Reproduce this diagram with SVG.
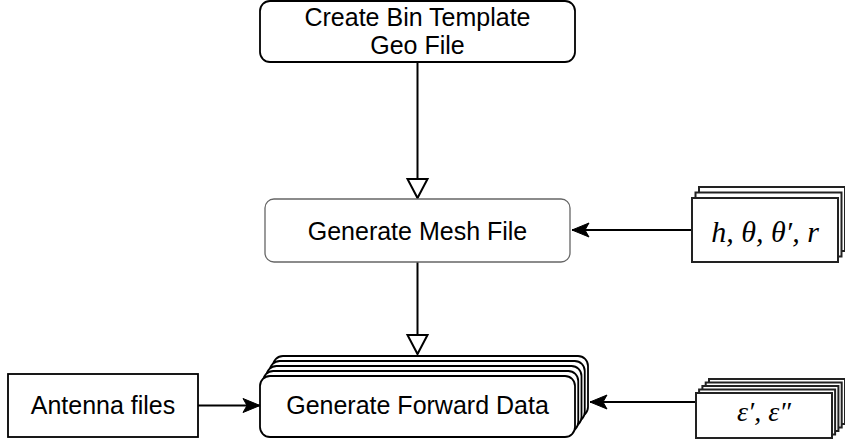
<svg xmlns="http://www.w3.org/2000/svg" width="845" height="446" viewBox="0 0 845 446">
<style>
.lbl{font-family:"Liberation Sans",Arial,Helvetica,sans-serif;font-size:25px;fill:#000;text-anchor:middle}
.math{font-family:"Liberation Serif","Times New Roman",serif;font-style:italic;fill:#000;text-anchor:middle}
.box{fill:#fff;stroke:#000;stroke-width:1.8}
.soft{fill:#fff;stroke:#666;stroke-width:1.3}
.doc{fill:#fff;stroke:#222;stroke-width:2}
.edge{fill:none;stroke:#000;stroke-width:2}
</style>
<defs>
<marker id="block" markerUnits="userSpaceOnUse" viewBox="-2 -12 23 24" refX="19" refY="0" markerWidth="23" markerHeight="24" orient="auto" overflow="visible">
<path d="M0,-10 L19,0 L0,10 Z" fill="#fff" stroke="#000" stroke-width="2"/>
</marker>
<marker id="classic" markerUnits="userSpaceOnUse" viewBox="-1 -8 20 16" refX="17" refY="0" markerWidth="20" markerHeight="16" orient="auto" overflow="visible">
<path d="M0,-7 L17,0 L0,7 L4,0 Z" fill="#000" stroke="#000" stroke-width="1"/>
</marker>
</defs>

<g id="connectors">
<line class="edge" x1="417.5" y1="62" x2="417.5" y2="198" marker-end="url(#block)"/>
<line class="edge" x1="417.5" y1="262" x2="417.5" y2="354" marker-end="url(#block)"/>
<line class="edge" x1="692" y1="230" x2="572" y2="230" marker-end="url(#classic)"/>
<line class="edge" x1="198" y1="405.5" x2="260" y2="405.5" marker-end="url(#classic)"/>
<line class="edge" x1="696" y1="402" x2="590" y2="402" marker-end="url(#classic)"/>
</g>

<g id="node-create-bin">
<rect class="box" x="260" y="1" width="315" height="61" rx="10"/>
<text class="lbl" x="417.5" y="26">Create Bin Template</text>
<text class="lbl" x="417.5" y="54">Geo File</text>
</g>

<g id="node-mesh">
<rect class="soft" x="265" y="199" width="305" height="63" rx="9"/>
<text class="lbl" x="417.5" y="240">Generate Mesh File</text>
</g>

<g id="node-params">
<rect class="doc" x="699" y="187" width="146" height="64"/>
<rect class="doc" x="695.5" y="192.5" width="146" height="64"/>
<rect class="doc" x="692" y="198" width="146" height="64"/>
<text class="math" x="765" y="242" font-size="30">h, θ, θ′, r</text>
</g>

<g id="node-forward">
<rect class="box" x="273" y="356" width="315" height="61" rx="10"/>
<rect class="box" x="269.75" y="361" width="315" height="61" rx="10"/>
<rect class="box" x="266.5" y="366" width="315" height="61" rx="10"/>
<rect class="box" x="263.25" y="371" width="315" height="61" rx="10"/>
<rect class="box" x="260" y="376" width="315" height="61" rx="10"/>
<text class="lbl" x="417.5" y="414">Generate Forward Data</text>
</g>

<g id="node-antenna">
<rect class="box" x="8" y="374" width="190" height="63"/>
<text class="lbl" x="103" y="414">Antenna files</text>
</g>

<g id="node-eps">
<rect class="doc" x="709" y="379" width="136" height="45"/>
<rect class="doc" x="705.7" y="382.5" width="136" height="45"/>
<rect class="doc" x="702.4" y="386" width="136" height="45"/>
<rect class="doc" x="699.1" y="389.5" width="136" height="45"/>
<rect class="doc" x="696" y="393" width="136" height="45"/>
<text class="math" x="764" y="421" font-size="28">ε′, ε″</text>
</g>
</svg>
